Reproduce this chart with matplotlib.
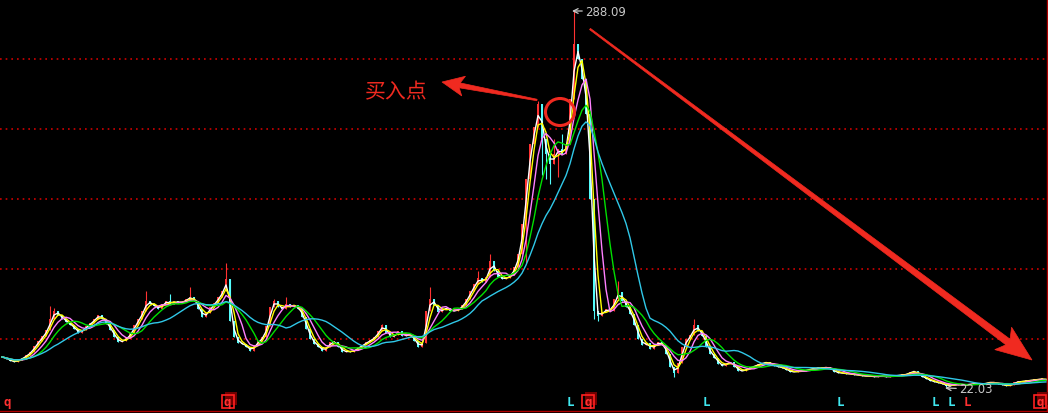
import numpy as np
import pandas as pd
import matplotlib
matplotlib.use('Agg')
import matplotlib.pyplot as plt
from matplotlib.patches import Ellipse, Polygon, Rectangle
from matplotlib.lines import Line2D

# Daily closes (one bar every ~4 px)
closes = [
    43.3, 41.9, 40.4, 39.7, 41.2, 42.6, 44.7, 46.8, 51.1, 54.6,
    58.1, 62.4, 70.2, 75.8, 73.0, 70.2, 68.0, 65.9, 63.1, 60.3,
    62.4, 65.2, 67.3, 70.2, 73.0, 70.2, 66.6, 62.4, 57.4, 53.9,
    54.6, 56.7, 60.3, 65.9, 70.2, 75.8, 82.9, 80.8, 79.4, 77.2,
    80.8, 82.9, 80.8, 82.9, 81.5, 82.2, 84.3, 85.7, 82.9, 77.2,
    71.6, 74.4, 78.7, 81.5, 85.7, 90.0, 98.5, 68.8, 57.4, 53.2,
    52.5, 50.4, 47.5, 51.8, 54.6, 57.4, 65.2, 78.7, 82.9, 78.7,
    77.2, 80.8, 78.7, 80.1, 77.2, 71.6, 63.1, 56.0, 52.5, 50.4,
    47.5, 50.4, 53.9, 53.9, 50.4, 46.8, 47.5, 46.8, 48.2, 50.4,
    51.8, 53.9, 55.3, 57.4, 61.7, 65.9, 60.3, 57.4, 58.8, 61.7,
    58.1, 58.8, 58.8, 54.6, 50.4, 53.2, 75.8, 84.3, 80.1, 75.1,
    77.2, 77.9, 75.8, 75.8, 77.2, 80.1, 84.3, 90.0, 94.9, 99.2,
    96.3, 99.9, 111.2, 104.1, 99.9, 98.5, 99.2, 101.3, 107.0, 116.2,
    137.4, 169.2, 194.0, 206.0, 222.3, 197.5, 186.9, 179.8, 186.9, 190.5,
    186.9, 194.0, 225.8, 264.8, 254.1, 240.0, 215.2, 155.1, 75.8, 72.3,
    75.1, 77.2, 75.8, 84.3, 89.3, 82.9, 78.7, 73.7, 65.9, 56.0,
    51.8, 53.2, 48.9, 51.8, 53.9, 51.8, 45.4, 36.2, 31.9, 39.0,
    50.4, 56.0, 58.8, 65.9, 61.7, 58.1, 50.4, 45.4, 42.6, 38.3,
    36.9, 39.0, 39.7, 36.2, 33.4, 33.4, 34.8, 36.2, 36.9, 38.3,
    39.0, 39.7, 38.3, 36.9, 36.2, 35.5, 34.1, 32.7, 32.7, 33.4,
    33.4, 34.1, 34.8, 35.5, 35.5, 35.5, 36.2, 34.8, 32.7, 31.9,
    31.9, 31.3, 31.3, 30.5, 30.5, 29.8, 29.8, 29.8, 29.1, 29.8,
    29.8, 29.1, 29.8, 29.8, 30.5, 30.5, 31.3, 32.7, 33.4, 30.5,
    29.1, 27.7, 26.3, 25.6, 24.9, 24.2, 22.8, 23.5, 23.5, 24.2,
    23.5, 23.5, 24.2, 24.2, 24.2, 24.2, 24.9, 25.6, 24.9, 24.2,
    23.5, 22.8, 23.5, 25.6, 25.6, 26.3, 26.3, 27.0, 27.0, 27.7,
    27.7, 27.0,
]

# upper / lower shadows that stick out of the bodies
spike_bars = [12, 13, 36, 42, 47, 56, 68, 71, 95, 107, 119, 122, 134, 138,
              140, 143, 154, 173]
spike_highs = [79.4, 78.0, 90.0, 87.9, 92.8, 109.8, 84.3, 85.7, 66.6, 92.8,
               104.1, 116.2, 224.4, 197.5, 201.1, 288.09, 97.1, 70.2]
dip_bars = [131, 135, 136, 137, 139, 148, 149, 168, 236]
dip_lows = [110.0, 172.4, 169.2, 165.6, 170.7, 70.2, 68.8, 29.1, 22.03]

ma_windows = [2, 3, 5, 8, 15]
ma_colors = ['#ffffff', '#ffff00', '#ff80ff', '#00e000', '#30c8e8']

grid_prices = [254.1, 204.6, 155.1, 105.5, 56.0]

# signal letters under the chart
mark_bars = [1.2, 56.4, 142.2, 146.5, 176.0, 209.5, 233.3, 237.3, 241.3, 259.5]
mark_text = ['q', 'q', 'L', 'q', 'L', 'L', 'L', 'L', 'L', 'q']
mark_colors = ['#ff3030', '#ff3030', '#40e8f0', '#ff3030', '#40e8f0',
               '#40e8f0', '#40e8f0', '#40e8f0', '#ff3030', '#ff3030']
mark_boxed = [False, True, False, True, False, False, False, False, False, True]

peak_label = '288.09'
low_label = '22.03'
buy_label = '买入点'

W, H = 1048, 414
RED = '#f02a20'

n = len(closes)
x = np.arange(n)
c = np.array(closes)
o = np.r_[c[0], c[:-1]]
hi = np.maximum(o, c)
lo = np.minimum(o, c)
hi[spike_bars] = np.maximum(hi[spike_bars], spike_highs)
lo[dip_bars] = np.minimum(lo[dip_bars], dip_lows)
up = c >= o
cols = np.where(up, '#ff3232', '#54fcfc')

fig = plt.figure(figsize=(W / 100, H / 100), dpi=100, facecolor='black')
ax = fig.add_axes([0, 0, 1, 1])
ax.set_facecolor('black')
ax.set_xlim(-0.5, n - 0.5)
ax.set_ylim(3.65, 296.6)
ax.axis('off')


def px(xp, yp):
    # image pixel -> figure fraction
    return xp / W, 1 - yp / H


for g in grid_prices:
    ax.axhline(g, color='#d00000', lw=1.2, ls=(0, (1, 2.4)), zorder=0)

# candles
ax.vlines(x, lo, hi, colors=cols, lw=0.8, zorder=2)
ax.bar(x, np.maximum(np.abs(c - o), 0.5), bottom=np.minimum(o, c),
       width=0.6, color=cols, lw=0, zorder=2)

# moving averages
s = pd.Series(closes)
for w, col in zip(ma_windows, ma_colors):
    ax.plot(x, s.rolling(w, min_periods=1).mean(), color=col, lw=1.0, zorder=3)

# max / min labels
ax.annotate(peak_label, xy=px(572, 12), xycoords='figure fraction',
            xytext=px(585, 12), textcoords='figure fraction',
            color='#c8c8c8', fontsize=8.5, va='center', ha='left',
            arrowprops=dict(arrowstyle='->', color='#c8c8c8', lw=0.9,
                            shrinkA=0, shrinkB=0))
ax.annotate(low_label, xy=px(945, 389), xycoords='figure fraction',
            xytext=px(959, 390), textcoords='figure fraction',
            color='#c8c8c8', fontsize=8.5, va='center', ha='left',
            arrowprops=dict(arrowstyle='->', color='#c8c8c8', lw=0.9,
                            shrinkA=0, shrinkB=0))


def taper_arrow(x0, y0, x1, y1, w0, w1, hl, hw, notch):
    p0 = np.array([x0, y0], float)
    p1 = np.array([x1, y1], float)
    u = (p1 - p0) / np.linalg.norm(p1 - p0)
    nv = np.array([-u[1], u[0]])
    base = p1 - u * hl
    pts = [p0 + nv * w0 / 2, base + nv * w1 / 2, base - u * notch + nv * hw / 2,
           p1, base - u * notch - nv * hw / 2, base - nv * w1 / 2, p0 - nv * w0 / 2]
    pts = [px(p[0], p[1]) for p in pts]
    fig.add_artist(Polygon(pts, closed=True, facecolor=RED, edgecolor=RED,
                           lw=0.5, transform=fig.transFigure, zorder=5))


taper_arrow(537, 101, 442, 83, 1.5, 5, 18, 20, 4)
taper_arrow(590, 30, 1032, 361, 1.5, 7, 30, 28, 6)

cx, cy = px(560, 113)
fig.add_artist(Ellipse((cx, cy), 29 / W, 27 / H, fill=False, edgecolor=RED,
                       lw=2.2, transform=fig.transFigure, zorder=5))

fig.text(*px(396, 92), buy_label, color=RED, fontsize=15,
         family=['Noto Sans CJK SC', 'DejaVu Sans'], ha='center', va='center')

# bottom signal row
for b, t, col, boxed in zip(mark_bars, mark_text, mark_colors, mark_boxed):
    xp = 4 * b + 2
    if boxed:
        fig.add_artist(Rectangle(px(xp - 3, 406), 12 / W, 13 / H,
                                 facecolor='#700000', edgecolor='none',
                                 transform=fig.transFigure, zorder=4))
        fig.add_artist(Rectangle(px(xp - 6, 409), 12 / W, 13 / H,
                                 facecolor='none', edgecolor='#ff2020', lw=1.2,
                                 transform=fig.transFigure, zorder=5))
    fig.text(*px(xp, 403), t, color=col, fontsize=9, fontweight='bold',
             family='DejaVu Sans Mono', ha='center', va='center', zorder=6)

# frame lines at bottom and right
fig.add_artist(Line2D([0, 1], [1 - 411.5 / H] * 2, color='#b00000', lw=1.0,
                      transform=fig.transFigure))
fig.add_artist(Line2D([1046.5 / W] * 2, [1 - 411.5 / H, 1],
                      color='#b00000', lw=1.0, transform=fig.transFigure))

fig.savefig('out.png', dpi=100, facecolor='black')
